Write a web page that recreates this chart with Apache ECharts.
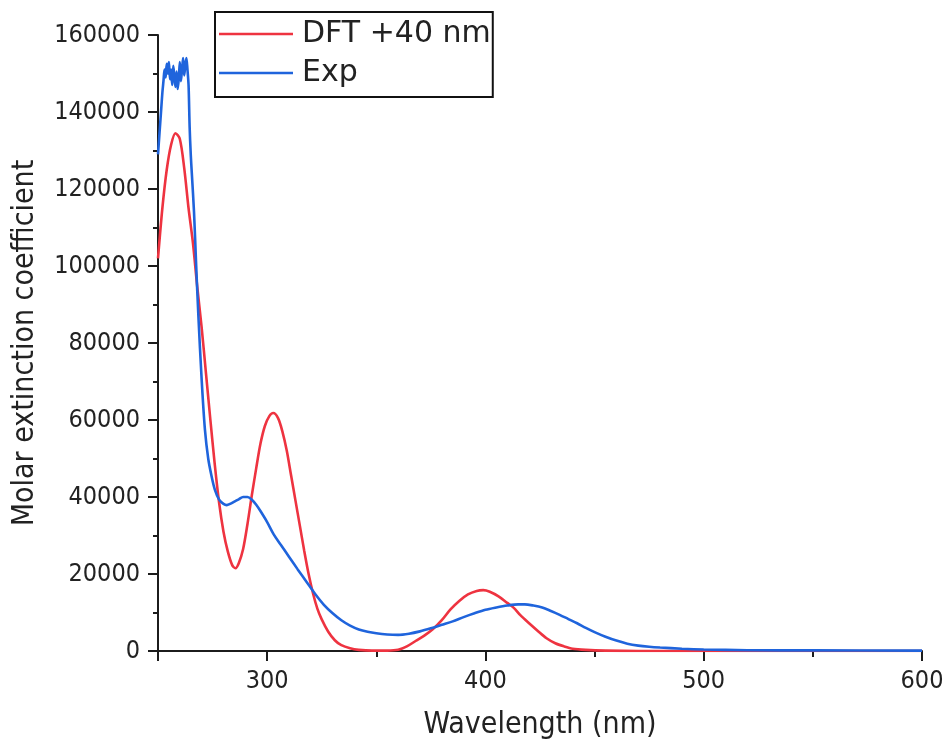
<!DOCTYPE html>
<html>
<head>
<meta charset="utf-8">
<script src="https://cdn.jsdelivr.net/npm/echarts@6/dist/echarts.min.js"></script>
<style>
  html, body { margin: 0; padding: 0; background: #fff; }
  #chart { width: 948px; height: 746px; }
</style>
</head>
<body>
<div id="chart"></div>
<script>
// ---- data (wavelength in nm, molar extinction coefficient in thousands) ----
const dftWavelength = [250,252,254,256,258,260,262,264,266,268,270,272,274,276,278,280,282,284,285.5,287,289,291,293,295,297,299,301,302.8,305,307,309,311,313,315,317,319,321,323,325,328,331,334,338,342,348,355,360,364,368,372,376,380,384,388,392,396,399,402,406,410,413,416,420,424,428,432,436,440,446,455,470,500,550,600];
const dftValues = [102,115,125,131.5,134.5,133,125.5,115,106,94.5,84,72,60,48.5,38.5,31,25.8,22.3,21.5,22.8,26.5,33,40.5,47.5,54,58.5,61,61.8,60.5,57,52,45.5,39,32.5,26,20,15,11,8.2,5,2.8,1.5,0.7,0.3,0.1,0.1,0.3,1.2,2.6,4,5.7,8,10.8,13,14.7,15.6,15.8,15.4,14.2,12.5,11.2,9.3,7.2,5.2,3.3,2,1.2,0.6,0.3,0.1,0,0,0,0];

const expWavelength = [250,250.5,251,251.5,252,252.5,253,253.5,254,254.5,255,255.5,256,256.5,257,257.5,258,258.5,259,259.5,260,260.5,261,261.5,262,262.5,263,263.5,264,264.5,265,265.5,266.5,267.5,268.5,270,271.5,273,274.5,276,278,280,281.5,283,285,287,289,291,293,295,297,300,303,306,310,314,318,322,326,330,334,338,342,346,350,355,360,365,370,375,380,385,390,395,400,405,410,415,418,422,426,430,434,438,442,446,450,455,460,465,470,475,480,490,500,520,550,600];
const expValues = [129,133,137,141,145,148,151,149,152.5,150,153,148.5,151,147,152,149,146.5,150.5,146,148.5,153,148,151,154,149.5,152,154,151,147,136,129,124,114,100,87,70.5,57.5,50,45.5,42,39.3,38.2,37.9,38.2,38.8,39.4,40,40,39.3,38,36.3,33.5,30.3,27.8,24.5,21.2,18,14.8,12,9.8,8,6.6,5.6,5,4.6,4.3,4.2,4.5,5.1,5.9,6.8,7.7,8.8,9.8,10.7,11.3,11.8,12.1,12.1,11.8,11.3,10.4,9.4,8.3,7.2,6,4.9,3.7,2.7,1.9,1.4,1.1,0.9,0.6,0.4,0.2,0.15,0.1];

const seriesNames = ['DFT +40 nm', 'Exp'];
const xTitle = 'Wavelength (nm)';
const yTitle = 'Molar extinction coefficient';

const toPairs = (xs, ys) => xs.map((x, i) => [x, ys[i] * 1000]);

const axisColor = '#1c1c1c';
const textColor = '#222';
const tickFont = 'DejaVu Sans Condensed, DejaVu Sans, sans-serif';
const redColor = '#ee3340';
const blueColor = '#1f64dc';

const chart = echarts.init(document.getElementById('chart'), null, { renderer: 'canvas' });
chart.setOption({
  animation: false,
  backgroundColor: '#fff',
  grid: { left: 158, right: 26, top: 35, bottom: 95 },
  legend: {
    orient: 'vertical',
    left: 215,
    top: 12,
    icon: 'rect',
    itemWidth: 74,
    itemHeight: 2.5,
    itemGap: 7,
    padding: [6, 2, 8, 4],
    borderColor: '#111',
    borderWidth: 2,
    textStyle: { fontSize: 30, lineHeight: 32, padding: [0, 0, 0, 4], color: textColor, fontFamily: 'DejaVu Sans, sans-serif' },
    data: seriesNames
  },
  xAxis: [
    {
      type: 'value', min: 250, max: 600, minInterval: 100, maxInterval: 100,
      position: 'bottom',
      name: xTitle, nameLocation: 'middle', nameGap: 59,
      nameTextStyle: { fontSize: 30, color: textColor, fontFamily: tickFont },
      axisLine: { show: true, lineStyle: { color: axisColor, width: 2 } },
      axisTick: { show: true, inside: false, length: 10, lineStyle: { color: axisColor, width: 2 } },
      axisLabel: { margin: 18, fontSize: 25, color: textColor, fontFamily: tickFont,
        formatter: v => (v === 250 ? '' : String(v)) },
      splitLine: { show: false }
    },
    {
      type: 'value', min: 250, max: 600, interval: 50,
      position: 'bottom',
      axisLine: { show: false },
      axisTick: { show: true, inside: false, length: 6, lineStyle: { color: axisColor, width: 2 } },
      axisLabel: { show: false },
      splitLine: { show: false }
    }
  ],
  yAxis: {
    type: 'value', min: 0, max: 160000, interval: 20000,
    name: yTitle, nameLocation: 'middle', nameGap: 118,
    nameTextStyle: { fontSize: 30, color: textColor, fontFamily: tickFont },
    axisLine: { show: true, lineStyle: { color: axisColor, width: 2 } },
    axisTick: { show: true, inside: false, length: 10, lineStyle: { color: axisColor, width: 2 } },
    minorTick: { show: true, splitNumber: 2, length: 5, lineStyle: { color: axisColor, width: 2 } },
    axisLabel: { margin: 18, fontSize: 25, color: textColor, fontFamily: tickFont,
      formatter: v => String(v) },
    splitLine: { show: false },
    minorSplitLine: { show: false }
  },
  series: [
    {
      name: seriesNames[0], type: 'line', xAxisIndex: 0, symbol: 'none', smooth: 0.3,
      lineStyle: { color: redColor, width: 2.6 }, itemStyle: { color: redColor },
      data: toPairs(dftWavelength, dftValues)
    },
    {
      name: seriesNames[1], type: 'line', xAxisIndex: 0, symbol: 'none', smooth: 0.3,
      lineStyle: { color: blueColor, width: 2.6 }, itemStyle: { color: blueColor },
      data: toPairs(expWavelength, expValues)
    }
  ]
});
</script>
</body>
</html>
